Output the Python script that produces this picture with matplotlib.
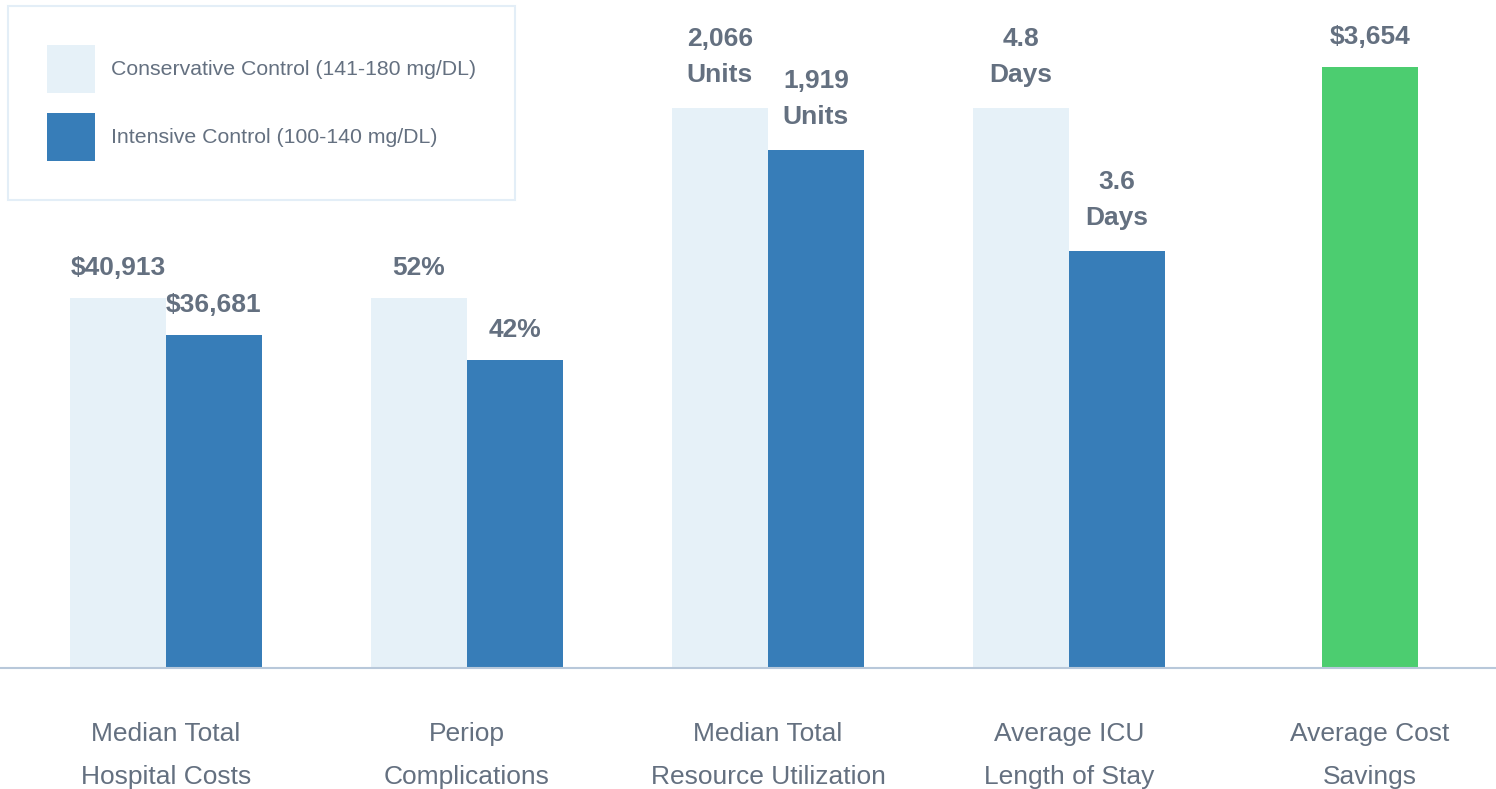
import matplotlib
matplotlib.use('Agg')
import matplotlib.pyplot as plt
import numpy as np

plt.rcParams['font.family'] = ['Liberation Sans', 'DejaVu Sans']

# categories and labels
categories = ['Median Total\nHospital Costs', 'Periop\nComplications',
              'Median Total\nResource Utilization', 'Average ICU\nLength of Stay',
              'Average Cost\nSavings']
conservative_labels = ['$40,913', '52%', '2,066\nUnits', '4.8\nDays']
intensive_labels = ['$36,681', '42%', '1,919\nUnits', '3.6\nDays']
savings_label = '$3,654'

# bar heights as drawn (each metric on its own scale)
conservative_height = [370, 370, 560, 560]
intensive_height = [333, 308, 518, 417]
savings_height = [601]

c_cons = '#e6f1f8'
c_int = '#377db8'
c_green = '#4ccd70'
c_text = '#647080'

fig = plt.figure(figsize=(14.96, 7.89), dpi=100)
ax = fig.add_axes([0, 121 / 789, 1, 668 / 789])

x = np.arange(len(categories))
w = 96 / 301

b1 = ax.bar(x[:4] - w / 2, conservative_height, w, color=c_cons,
            label='Conservative Control (141-180 mg/DL)')
b2 = ax.bar(x[:4] + w / 2, intensive_height, w, color=c_int,
            label='Intensive Control (100-140 mg/DL)')
b3 = ax.bar(x[4:], savings_height, w, color=c_green)

def put_labels(bars, labels):
    for rect, lab in zip(bars, labels):
        off = 15 if '\n' in lab else 13
        ax.annotate(lab, (rect.get_x() + rect.get_width() / 2, rect.get_height()),
                    xytext=(0, off), textcoords='offset points', ha='center',
                    va='bottom', fontsize=19, fontweight='bold', color=c_text,
                    linespacing=1.62)

put_labels(b1, conservative_labels)
put_labels(b2, intensive_labels)
put_labels(b3, [savings_label])

ax.set_xlim(-166 / 301, (1496 - 166) / 301)
ax.set_ylim(0, 668)
ax.set_yticks([])
ax.set_xticks(x)
ax.set_xticklabels(categories, fontsize=19, color=c_text, linespacing=1.97)
ax.tick_params(axis='x', length=0, pad=39)
for s in ['top', 'left', 'right']:
    ax.spines[s].set_visible(False)
ax.spines['bottom'].set_color('#b8c8da')
ax.spines['bottom'].set_linewidth(1.5)

leg = ax.legend(loc='upper left', bbox_to_anchor=(8 / 1496, 1 - 6 / 789),
                bbox_transform=fig.transFigure, borderaxespad=0,
                fontsize=15.3, handlelength=2.25, handleheight=3.05,
                handletextpad=0.74, labelspacing=0.97, borderpad=1.85,
                fancybox=False, framealpha=1, labelcolor=c_text)
leg.get_frame().set_edgecolor('#e3eef7')
leg.get_frame().set_linewidth(1.5)

fig.savefig('out.png', dpi=100)
